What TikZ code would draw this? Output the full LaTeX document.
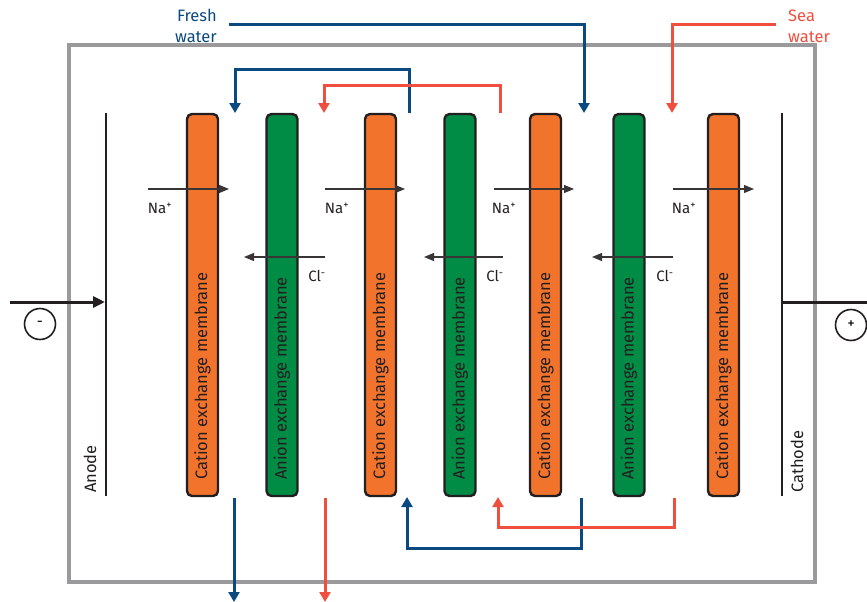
\documentclass[tikz,border=0pt]{standalone}
\usepackage{fontspec}
\setmainfont{Fira Sans}
\usetikzlibrary{arrows.meta}
\definecolor{fresh}{HTML}{0B4A80}
\definecolor{sea}{HTML}{F04E3E}
\definecolor{cationc}{HTML}{F2732C}
\definecolor{anionc}{HTML}{008C45}
\definecolor{boxgray}{HTML}{9A9A9D}
\definecolor{ink}{HTML}{231F20}
\begin{document}
\begin{tikzpicture}[x=1pt,y=-1pt,
  membrane/.style={draw=ink,line width=2.4pt,rounded corners=5pt,minimum width=31pt,minimum height=382pt,inner sep=0pt},
  cationm/.style={membrane,fill=cationc},
  anionm/.style={membrane,fill=anionc},
  mtext/.style={rotate=90,anchor=west,font=\fontsize{16.5}{19}\selectfont,text=ink,inner sep=0pt},
  ionarrow/.style={draw=ink!90,line width=1.1pt,-{Triangle[width=8pt,length=10pt]}},
  ionlabel/.style={font=\fontsize{15}{17}\selectfont,text=ink,inner sep=0pt},
  freshflow/.style={draw=fresh,line width=3pt},
  seaflow/.style={draw=sea,line width=3pt},
  freshtip/.style={freshflow,-{Triangle[width=11pt,length=10pt]}},
  seatip/.style={seaflow,-{Triangle[width=11pt,length=10pt]}},
  electrode/.style={draw=ink,line width=2pt},
  pole/.style={draw=ink,circle,line width=1.6pt,minimum size=31pt,inner sep=0pt,font=\fontsize{15}{17}\selectfont},
  flowlabel/.style={font=\fontsize{16.5}{21}\selectfont,inner sep=0pt}
]
\useasboundingbox (0,0) rectangle (867,602);

% outer box
\node[draw=boxgray,line width=3.5pt,minimum width=746pt,minimum height=537pt,inner sep=0pt] (box) at (442,313.5) {};

% membranes
\node[cationm] (c1) at (202.5,305) {};
\node[anionm]  (a1) at (282,305) {};
\node[cationm] (c2) at (380.5,305) {};
\node[anionm]  (a2) at (460,305) {};
\node[cationm] (c3) at (545.5,305) {};
\node[anionm]  (a3) at (629,305) {};
\node[cationm] (c4) at (723.5,305) {};

\node[mtext] (t1) at (202.5,480) {Cation exchange membrane};
\node[mtext] (t2) at (282,480) {Anion exchange membrane};
\node[mtext] (t3) at (380.5,480) {Cation exchange membrane};
\node[mtext] (t4) at (460,480) {Anion exchange membrane};
\node[mtext] (t5) at (545.5,480) {Cation exchange membrane};
\node[mtext] (t6) at (629,480) {Anion exchange membrane};
\node[mtext] (t7) at (723.5,480) {Cation exchange membrane};

% electrodes
\coordinate (anT) at (106,113); \coordinate (anB) at (106,496);
\coordinate (caT) at (782,113); \coordinate (caB) at (782,496);
\draw[electrode] (anT) -- (anB);
\draw[electrode] (caT) -- (caB);
\node[mtext] (anode) at (90,493) {Anode};
\node[mtext] (cathode) at (797,493) {Cathode};

\coordinate (anIn) at (10,302); \coordinate (anHit) at (105,302);
\coordinate (caOut) at (867,302); \coordinate (caHit) at (782,302);
\draw[draw=ink,line width=3pt,-{Triangle[width=11pt,length=12pt]}] (anIn) -- (anHit);
\draw[draw=ink,line width=3pt] (caHit) -- (caOut);
\node[pole] (minus) at (40,324) {-};
\node[pole] (plus) at (851,325) {+};

% Na+ arrows
\foreach \s/\e/\l [count=\i] in {148/229/160, 325/405/337, 494/574/504, 673/754/684}{
  \coordinate (na\i s) at (\s,189); \coordinate (na\i e) at (\e,189);
  \draw[ionarrow] (na\i s) -- (na\i e);
  \node[ionlabel] (nal\i) at (\l,208) {Na\textsuperscript{+}};
}
% Cl- arrows
\foreach \s/\e/\l [count=\i] in {325/244/317, 503/424/495, 673/592/665}{
  \coordinate (cl\i s) at (\s,257); \coordinate (cl\i e) at (\e,257);
  \draw[ionarrow] (cl\i s) -- (cl\i e);
  \node[ionlabel] (cll\i) at (\l,276) {Cl\textsuperscript{-}};
}

% fresh water
\node[flowlabel,text=fresh,align=right,anchor=east] (freshlbl) at (217,26) {Fresh\\water};
\coordinate (f0) at (229,25); \coordinate (f1) at (584,25); \coordinate (f2) at (584,113);
\draw[freshtip] (f0) -- (f1) -- (f2);
\coordinate (g0) at (409,113); \coordinate (g1) at (409,70); \coordinate (g2) at (235,70); \coordinate (g3) at (235,113);
\draw[freshtip] (g0) -- (g1) -- (g2) -- (g3);
\coordinate (h0) at (234,498); \coordinate (h1) at (234,602);
\draw[freshtip] (h0) -- (h1);
\coordinate (k0) at (581,498); \coordinate (k1) at (581,548); \coordinate (k2) at (407,548); \coordinate (k3) at (407,497);
\draw[freshtip] (k0) -- (k1) -- (k2) -- (k3);

% sea water
\node[flowlabel,text=sea,align=left,anchor=west] (sealbl) at (788,26) {Sea\\water};
\coordinate (s0) at (776,25); \coordinate (s1) at (672,25); \coordinate (s2) at (672,113);
\draw[seatip] (s0) -- (s1) -- (s2);
\coordinate (u0) at (500,113); \coordinate (u1) at (500,85); \coordinate (u2) at (324,85); \coordinate (u3) at (324,113);
\draw[seatip] (u0) -- (u1) -- (u2) -- (u3);
\coordinate (v0) at (325,498); \coordinate (v1) at (325,602);
\draw[seatip] (v0) -- (v1);
\coordinate (w0) at (674,498); \coordinate (w1) at (674,527); \coordinate (w2) at (498,527); \coordinate (w3) at (498,497);
\draw[seatip] (w0) -- (w1) -- (w2) -- (w3);

\end{tikzpicture}
\end{document}
